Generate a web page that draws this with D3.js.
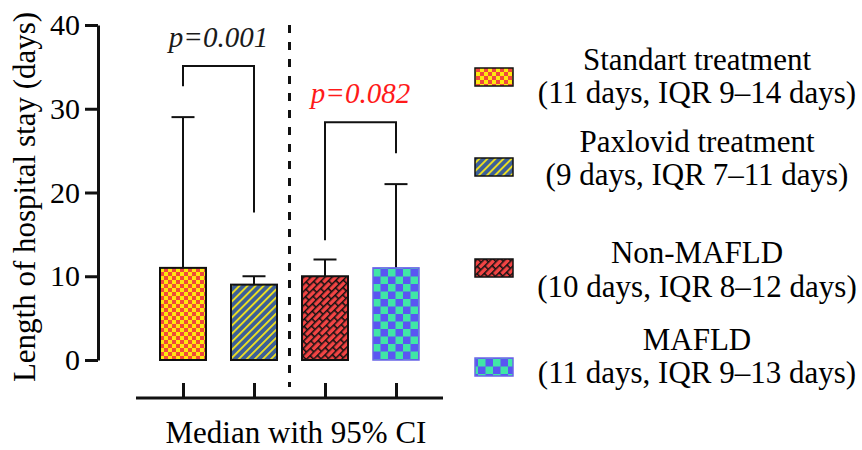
<!DOCTYPE html>
<html>
<head>
<meta charset="utf-8">
<script src="https://cdn.jsdelivr.net/npm/d3@7"></script>
<style>
  body { margin: 0; background: #fff; }
  svg { display: block; }
  text { font-family: "Liberation Serif", "Times New Roman", serif; fill: #000; }
</style>
</head>
<body>
<svg id="chart" width="862" height="450"></svg>
<script>
// Data (days)
const groups = ["Standart treatment", "Paxlovid treatment", "Non-MAFLD", "MAFLD"];
const medians = [11, 9, 10, 11];
const upperCI = [29, 10, 12, 21];
const legendDetails = [
  "(11 days, IQR 9–14 days)",
  "(9 days, IQR 7–11 days)",
  "(10 days, IQR 8–12 days)",
  "(11 days, IQR 9–13 days)"
];
const yTicks = [0, 10, 20, 30, 40];
// significance brackets: group indexes, bracket top and leg ends (days)
const comparisons = [
  { a: 0, b: 1, top: 35.1, endA: 32.7, endB: 17.6, label: "p=0.001" },
  { a: 2, b: 3, top: 28.4, endA: 14.3, endB: 24.7, label: "p=0.082" }
];

const fills = ["url(#patCheck)", "url(#patStripe)", "url(#patBrick)", "url(#patBlock)"];
const strokes = ["#111", "#111", "#111", "#6a66e6"];
const labelColors = ["#1a1a1a", "#ff1a1a"];

const svg = d3.select("#chart");
const defs = svg.append("defs");

// small red/yellow checker
const pc = defs.append("pattern").attr("id", "patCheck")
  .attr("patternUnits", "userSpaceOnUse").attr("width", 8).attr("height", 8);
pc.append("rect").attr("width", 8).attr("height", 8).attr("fill", "#fde910");
pc.append("rect").attr("width", 4).attr("height", 4).attr("fill", "#f0483c");
pc.append("rect").attr("x", 4).attr("y", 4).attr("width", 4).attr("height", 4).attr("fill", "#f0483c");

// blue with yellow diagonal stripes
const ps = defs.append("pattern").attr("id", "patStripe")
  .attr("patternUnits", "userSpaceOnUse").attr("width", 5.7).attr("height", 10)
  .attr("patternTransform", "rotate(45)");
ps.append("rect").attr("width", 5.7).attr("height", 10).attr("fill", "#3c5f98");
ps.append("rect").attr("width", 1.8).attr("height", 10).attr("fill", "#f2e41c");

// red bricks with black mortar
const pb = defs.append("pattern").attr("id", "patBrick")
  .attr("patternUnits", "userSpaceOnUse").attr("width", 11).attr("height", 10)
  .attr("patternTransform", "rotate(-45)");
pb.append("rect").attr("width", 11).attr("height", 10).attr("fill", "#f24444");
pb.append("path")
  .attr("d", "M0,0.7H11M0,5.7H11M0.7,0V5M6.2,5V10")
  .attr("stroke", "#111").attr("stroke-width", 1.6).attr("fill", "none");

// blue/green blocks
const pk = defs.append("pattern").attr("id", "patBlock")
  .attr("patternUnits", "userSpaceOnUse").attr("width", 15).attr("height", 15)
  .attr("x", 373).attr("y", 269);
pk.append("rect").attr("width", 15).attr("height", 15).attr("fill", "#5a56f2");
pk.append("rect").attr("width", 7.5).attr("height", 7.5).attr("fill", "#40e6a6");
pk.append("rect").attr("x", 7.5).attr("y", 7.5).attr("width", 7.5).attr("height", 7.5).attr("fill", "#40e6a6");

const y = d3.scaleLinear().domain([0, 40]).range([360, 25]);
const x = d3.scalePoint().domain(groups).range([183, 396]);
const barW = 46;

// y axis
const gy = svg.append("g").attr("transform", "translate(98,0)")
  .call(d3.axisLeft(y).tickValues(yTicks).tickSize(13).tickSizeOuter(0).tickPadding(5));
gy.select(".domain").attr("stroke", "#111").attr("stroke-width", 3);
gy.selectAll(".tick line").attr("stroke", "#111").attr("stroke-width", 3);
gy.selectAll(".tick text").attr("font-size", 30).attr("font-family", "Liberation Serif").attr("fill", "#111");

// x axis (ticks only, line drawn separately)
const gx = svg.append("g").attr("transform", "translate(0,398)")
  .call(d3.axisBottom(x).tickSize(-15).tickSizeOuter(0).tickFormat(""));
gx.select(".domain").remove();
gx.selectAll(".tick line").attr("stroke", "#111").attr("stroke-width", 3);
svg.append("line")
  .attr("x1", 136).attr("x2", 443).attr("y1", 398).attr("y2", 398)
  .attr("stroke", "#111").attr("stroke-width", 3);

svg.append("text")
  .attr("x", 296).attr("y", 443).attr("text-anchor", "middle")
  .attr("font-size", 31).text("Median with 95% CI");

svg.append("text")
  .attr("transform", "translate(35,197) rotate(-90)")
  .attr("text-anchor", "middle").attr("font-size", 31)
  .text("Length of hospital stay (days)");

// separator
const sepX = (x(groups[1]) + x(groups[2])) / 2;
svg.append("line")
  .attr("x1", sepX).attr("x2", sepX).attr("y1", y(40)).attr("y2", 387)
  .attr("stroke", "#111").attr("stroke-width", 3).attr("stroke-dasharray", "8,9");

// error bars (upper only)
const eb = svg.append("g").attr("stroke", "#111").attr("stroke-width", 2);
groups.forEach((g, i) => {
  const cx = x(g);
  eb.append("line").attr("x1", cx).attr("x2", cx).attr("y1", y(medians[i])).attr("y2", y(upperCI[i]));
  eb.append("line").attr("x1", cx - 11.5).attr("x2", cx + 11.5).attr("y1", y(upperCI[i])).attr("y2", y(upperCI[i]));
});

// bars
svg.append("g").selectAll("rect")
  .data(groups)
  .join("rect")
  .attr("x", d => x(d) - barW / 2)
  .attr("y", (d, i) => y(medians[i]))
  .attr("width", barW)
  .attr("height", (d, i) => y(0) - y(medians[i]))
  .attr("fill", (d, i) => fills[i])
  .attr("stroke", (d, i) => strokes[i])
  .attr("stroke-width", (d, i) => i === 3 ? 1.5 : 2);

// brackets
comparisons.forEach((c, i) => {
  const xa = x(groups[c.a]), xb = x(groups[c.b]);
  svg.append("path")
    .attr("d", `M${xa},${y(c.endA)}V${y(c.top)}H${xb}V${y(c.endB)}`)
    .attr("fill", "none").attr("stroke", "#111").attr("stroke-width", 2);
  svg.append("text")
    .attr("x", (xa + xb) / 2).attr("y", y(c.top) - 19)
    .attr("text-anchor", "middle").attr("font-size", 29).attr("font-style", "italic")
    .style("fill", labelColors[i])
    .text(c.label);
});

// legend
const legendRows = [77, 167, 268, 367];
const legendText = [[70, 103], [152, 185], [263, 297], [350, 383]];
groups.forEach((g, i) => {
  svg.append("rect")
    .attr("x", 475).attr("y", legendRows[i] - 9)
    .attr("width", 38).attr("height", 18)
    .attr("fill", fills[i]).attr("stroke", strokes[i]).attr("stroke-width", 1.5);
  svg.append("text").attr("x", 697).attr("y", legendText[i][0])
    .attr("text-anchor", "middle").attr("font-size", 31).text(g);
  svg.append("text").attr("x", 697).attr("y", legendText[i][1])
    .attr("text-anchor", "middle").attr("font-size", 31).text(legendDetails[i]);
});
</script>
</body>
</html>
